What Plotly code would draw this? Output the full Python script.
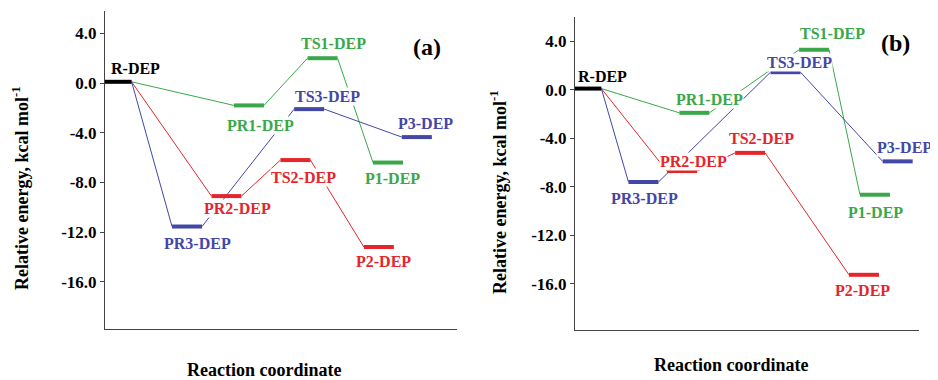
import plotly.graph_objects as go

# ---------------- data ----------------
species = ["R-DEP", "PR1-DEP", "TS1-DEP", "P1-DEP",
           "PR2-DEP", "TS2-DEP", "P2-DEP",
           "PR3-DEP", "TS3-DEP", "P3-DEP"]

# panel (a): reaction-coordinate position and relative energy (kcal/mol)
coord_a = [0.33, 4.09, 6.18, 8.04, 3.45, 5.41, 7.78, 2.33, 5.80, 8.86]
energy_a = [0.1, -1.8, 2.0, -6.4, -9.1, -6.2, -13.2, -11.55, -2.1, -4.35]

# panel (b)
coord_b = [0.33, 3.47, 6.95, 8.72, 3.11, 5.09, 8.40, 1.99, 6.12, 9.38]
energy_b = [0.1, -1.9, 3.3, -8.65, -6.7, -5.2, -15.25, -7.6, 1.45, -5.9]

pathways = {
    "1": ["R-DEP", "PR1-DEP", "TS1-DEP", "P1-DEP"],
    "2": ["R-DEP", "PR2-DEP", "TS2-DEP", "P2-DEP"],
    "3": ["R-DEP", "PR3-DEP", "TS3-DEP", "P3-DEP"],
}

y_tick_vals = [4, 0, -4, -8, -12, -16]
y_tick_text = ["4.0", "0.0", "-4.0", "-8.0", "-12.0", "-16.0"]

# ---------------- style ----------------
GREEN = "#3aa84a"
RED = "#e4262c"
BLUE = "#4347a6"
BLACK = "#000000"
path_color = {"1": GREEN, "2": RED, "3": BLUE}
species_color = {"R-DEP": BLACK}
for k, names in pathways.items():
    for n in names[1:]:
        species_color[n] = path_color[k]

FONT = "Liberation Serif, Times New Roman, serif"
OFF = 8                      # page body margin of the browser
W, H = 938 - OFF, 380 - OFF


def px(x):
    return (x - OFF) / W


def py(y):
    return 1 - (y - OFF) / H


# label offsets in pixels (dx right, dy up)
label_off_a = {"R-DEP": (19, 13), "PR3-DEP": (10, -17), "PR2-DEP": (11, -12),
               "PR1-DEP": (12, -20), "TS2-DEP": (8, -17), "TS3-DEP": (18, 13),
               "TS1-DEP": (11, 15), "P1-DEP": (4, -16), "P2-DEP": (5, -14),
               "P3-DEP": (9, 14)}
label_off_b = {"R-DEP": (16, 12), "PR3-DEP": (1, -17), "PR2-DEP": (12, 10),
               "PR1-DEP": (15, 13), "TS2-DEP": (11, 14), "TS3-DEP": (14, 10),
               "TS1-DEP": (18, 16), "P1-DEP": (1, -18), "P2-DEP": (-1, -16),
               "P3-DEP": (7, 14)}

panels = [
    dict(coord=coord_a, energy=energy_a, off=label_off_a, xa="x", ya="y",
         xdom=(105, 457), ydom=(11, 329), yr=(-19.8, 5.8), tag="(a)",
         tagpos=(427, 47), ytitle=(20, 189), xtitle=(264, 370)),
    dict(coord=coord_b, energy=energy_b, off=label_off_b, xa="x2", ya="y2",
         xdom=(575, 919), ydom=(17, 330), yr=(-19.8, 6.0), tag="(b)",
         tagpos=(895, 43), ytitle=(498, 193), xtitle=(731, 365)),
]

XR = (0, 10)
BAR_PX = 30

fig = go.Figure()
annotations = []
layout = dict(
    width=W, height=H, margin=dict(l=0, r=0, t=0, b=0),
    paper_bgcolor="white", plot_bgcolor="white", showlegend=False,
)

for i, p in enumerate(panels):
    px_per_unit = (p["xdom"][1] - p["xdom"][0]) / (XR[1] - XR[0])
    hw = BAR_PX / 2 / px_per_unit
    pos = {s: (c, e) for s, c, e in zip(species, p["coord"], p["energy"])}

    # connectors
    for k, names in pathways.items():
        for a, b in zip(names[:-1], names[1:]):
            (ca, ea), (cb, eb) = pos[a], pos[b]
            fig.add_trace(go.Scatter(
                x=[ca + hw, cb - hw], y=[ea, eb], mode="lines",
                line=dict(color=path_color[k], width=1),
                xaxis=p["xa"], yaxis=p["ya"], hoverinfo="skip"))
    # levels
    for s in species:
        c, e = pos[s]
        fig.add_trace(go.Scatter(
            x=[c - hw, c + hw], y=[e, e], mode="lines",
            line=dict(color=species_color[s], width=4),
            xaxis=p["xa"], yaxis=p["ya"], hoverinfo="skip"))
        dx, dy = p["off"][s]
        annotations.append(dict(
            x=c, y=e, xref=p["xa"], yref=p["ya"], text="<b>%s</b>" % s,
            showarrow=False, xanchor="center", yanchor="middle",
            xshift=dx, yshift=dy, bgcolor="white", borderpad=0,
            font=dict(family=FONT, size=16, color=species_color[s])))

    suffix = "" if i == 0 else "2"
    layout["xaxis" + suffix] = dict(
        domain=[px(p["xdom"][0]), px(p["xdom"][1])], range=list(XR),
        showgrid=False, zeroline=False, showticklabels=False, ticks="",
        showline=True, linecolor="#444", linewidth=1, anchor=p["ya"],
        fixedrange=True)
    layout["yaxis" + suffix] = dict(
        domain=[py(p["ydom"][1]), py(p["ydom"][0])], range=list(p["yr"]),
        showgrid=False, zeroline=False, tickvals=y_tick_vals, ticktext=y_tick_text,
        ticks="outside", ticklen=4, tickcolor="#444",
        tickfont=dict(family=FONT, size=17, color="black", weight="bold"),
        showline=True, linecolor="#444", linewidth=1, anchor=p["xa"],
        fixedrange=True)

    annotations.append(dict(
        x=px(p["tagpos"][0]), y=py(p["tagpos"][1]), xref="paper", yref="paper",
        text="<b>%s</b>" % p["tag"], showarrow=False, xanchor="center",
        yanchor="middle", font=dict(family=FONT, size=24, color="black")))
    annotations.append(dict(
        x=px(p["ytitle"][0]), y=py(p["ytitle"][1]), xref="paper", yref="paper",
        text="<b>Relative energy, kcal mol<sup>-1</sup></b>", textangle=-90,
        showarrow=False, xanchor="center", yanchor="middle",
        font=dict(family=FONT, size=18, color="black")))
    annotations.append(dict(
        x=px(p["xtitle"][0]), y=py(p["xtitle"][1]), xref="paper", yref="paper",
        text="<b>Reaction coordinate</b>", showarrow=False, xanchor="center",
        yanchor="middle", font=dict(family=FONT, size=18, color="black")))

layout["annotations"] = annotations
fig.update_layout(**layout)
fig.write_html("out.html")
